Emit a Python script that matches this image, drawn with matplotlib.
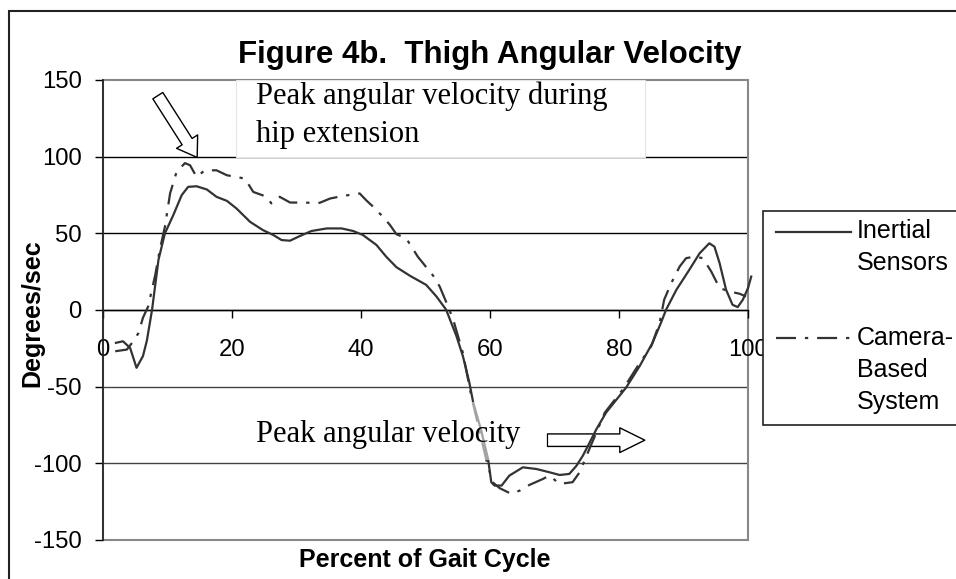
import matplotlib
matplotlib.use("Agg")
import matplotlib.pyplot as plt
from matplotlib.patches import Rectangle
from matplotlib.lines import Line2D

plt.rcParams['axes.unicode_minus'] = False
plt.rcParams['font.family'] = ['Liberation Sans', 'DejaVu Sans']

# ---- data ----
inertial_x = [2.0, 3.1, 4.2, 5.2, 6.2, 6.8, 7.6, 8.6, 9.6, 10.9, 12.2, 13.2, 14.5, 16.1, 17.6,
              19.2, 20.7, 22.8, 24.8, 26.4, 27.7, 29.0, 30.5, 32.3, 34.7, 37.0, 38.8, 40.3,
              42.4, 43.9, 45.5, 47.6, 50.1, 51.7, 53.2, 54.8, 55.8, 56.8, 57.4, 58.6, 59.7,
              60.2, 60.7, 61.8, 63.0, 65.1, 67.2, 69.2, 70.8, 72.3, 73.4, 74.4, 75.5, 76.5,
              78.0, 81.1, 83.2, 85.2, 86.5, 87.3, 88.9, 90.9, 92.5, 94.0, 94.8, 95.6, 96.6,
              97.6, 98.4, 99.2, 100.0, 100.5]
inertial_y = [-21.4, -20.4, -24.7, -37.7, -30, -20, 0, 32.7, 50, 61.9, 74.9, 80.3, 80.7, 78.6,
              73.8, 71.2, 66.2, 57.5, 52.1, 48.9, 45.6, 45.2, 48.2, 51.5, 53.2, 53.2, 51.5,
              48.9, 42.4, 34.8, 27.9, 22.3, 16.4, 8.8, 0.2, -17.1, -30.1, -47.4, -60.4, -78,
              -97.2, -112.3, -114.5, -114.5, -108, -102.6, -103.7, -105.8, -107.6, -106.9,
              -101.6, -95, -86, -77.7, -66.9, -50.6, -36.6, -21.4, -8.4, 0.2, 13.2, 26.2, 37,
              43.5, 41.3, 30.5, 13.2, 3.4, 1.9, 6.7, 14.3, 21.8]

camera_x = [1.9, 3.7, 4.7, 5.5, 6.2, 7.0, 8.1, 8.8, 9.6, 10.4, 11.4, 12.7, 13.5, 14.5, 15.8,
            17.6, 19.2, 22.0, 23.3, 25.4, 26.1, 27.4, 29.0, 33.6, 35.2, 37.2, 39.8, 40.8,
            41.9, 43.4, 44.5, 45.5, 47.0, 48.8, 51.2, 52.2, 53.5, 54.3, 55.8, 57.1, 59.4,
            60.4, 61.5, 63.3, 64.6, 66.1, 68.2, 69.2, 70.8, 72.8, 73.9, 75.4, 77.8, 80.6,
            82.9, 85.0, 86.3, 87.0, 88.1, 89.4, 90.4, 91.7, 93.0, 94.3, 95.6, 97.1, 98.7, 99.7]
camera_y = [-26.9, -25.8, -20.4, -15, -5, 2.3, 22.9, 39.2, 54.3, 76, 90, 95.8, 94.4, 86.8,
            91.1, 91.1, 87.9, 85.7, 77, 73.8, 69.5, 73.8, 70.1, 69.9, 72.7, 74.4, 76, 71.6,
            67.3, 60.8, 55.4, 49.4, 46.8, 34.8, 22.3, 15.3, 2.3, -6.3, -28, -56.1, -97.2,
            -112.3, -116.2, -119.9, -117.8, -114.1, -110.2, -108, -113.4, -112.3, -105.8,
            -90.7, -66.9, -51.8, -36.6, -23.6, -8.4, 6.7, 17.5, 28.3, 33.8, 34.8, 33.8, 25.1,
            14.3, 12.1, 10.6, 8.8]

x_ticks = [0, 20, 40, 60, 80, 100]
y_ticks = [-150, -100, -50, 0, 50, 100, 150]
series_labels = ["Inertial\nSensors", "Camera-\nBased\nSystem"]
title = "Figure 4b.  Thigh Angular Velocity"
x_label = "Percent of Gait Cycle"
y_label = "Degrees/sec"
note_top = ["Peak angular velocity during", "hip extension"]
note_bottom = "Peak angular velocity"

# ---- figure ----
W, H = 956, 579
fig = plt.figure(figsize=(W / 100, H / 100), dpi=100)

def fx(px):
    return px / W

def fy(py):
    return 1 - py / H

L, R, T, B = 103, 748, 80, 540
ax = fig.add_axes([fx(L), fy(B), fx(R) - fx(L), fy(T) - fy(B)])
ax.set_xlim(0, 100)
ax.set_ylim(-150, 150)

# gridlines
for yv in y_ticks:
    if yv == 150:
        continue
    ax.axhline(yv, color='black' if yv in (0, 50, 100) else '#444444', lw=1.0, zorder=1)

# plot area border (gray)
ax.add_patch(Rectangle((0, 0), 1, 1, transform=ax.transAxes, fill=False,
                       ec='#888888', lw=1.5, zorder=1.5, clip_on=False))

for s in ['top', 'right']:
    ax.spines[s].set_visible(False)
ax.spines['left'].set_color('#222222')
ax.spines['left'].set_linewidth(1.2)
ax.spines['left'].set_zorder(3)
ax.spines['bottom'].set_position(('data', 0))
ax.spines['bottom'].set_color('black')
ax.spines['bottom'].set_linewidth(1.0)

ax.set_xticks(x_ticks)
ax.set_yticks(y_ticks)
ax.set_yticklabels([str(v) for v in y_ticks])
ax.set_xticklabels([str(v) for v in x_ticks])
ax.tick_params(axis='y', direction='out', length=5.8, width=1, pad=9.5,
               labelsize=17.2, colors='black')
ax.tick_params(axis='x', direction='out', length=5.8, width=1, pad=15,
               labelsize=17.2, colors='black')

# white box behind the upper note
ax.add_patch(Rectangle((20.6, 99.6), 84.0 - 20.6, 150 - 99.6, fc='white',
                       ec='#e6e6e6', lw=0.8, zorder=2))

# series
ax.plot(inertial_x, inertial_y, color='#333333', lw=1.6, zorder=4, clip_on=False,
        solid_joinstyle='round')
ax.plot(camera_x, camera_y, color='#333333', lw=1.6, zorder=4, clip_on=False,
        dashes=(9, 4, 1.5, 4))

# semi-transparent box of the lower note (fades the curves under it)
ax.add_patch(Rectangle((20.6, -98.0), 68.9 - 20.6, 38.0, fc='white', ec='none',
                       alpha=0.55, zorder=4.5))

# notes
ax.text(23.7, 134.6, note_top[0], family='Liberation Serif', fontsize=22,
        va='baseline', ha='left', zorder=5)
ax.text(23.7, 109.3, note_top[1], family='Liberation Serif', fontsize=22,
        va='baseline', ha='left', zorder=5)
ax.text(23.7, -86.2, note_bottom, family='Liberation Serif', fontsize=22,
        va='baseline', ha='left', zorder=5)

# arrows
ax.annotate('', xy=(14.6, 99.5), xytext=(8.5, 139.8),
            arrowprops=dict(arrowstyle='simple,head_length=1.35,head_width=1.8,tail_width=0.85',
                            fc='white', ec='black', lw=1.0, mutation_scale=10,
                            shrinkA=0, shrinkB=0), zorder=6)
ax.annotate('', xy=(84.0, -84.9), xytext=(68.9, -84.9),
            arrowprops=dict(arrowstyle='simple,head_length=1.8,head_width=1.78,tail_width=0.9',
                            fc='white', ec='black', lw=1.0, mutation_scale=10,
                            shrinkA=0, shrinkB=0), zorder=3)

# titles / labels
fig.text(fx(490), fy(63), title, ha='center', va='baseline', fontsize=22.5,
         fontweight='bold')
fig.text(fx(424.5), fy(567), x_label, ha='center', va='baseline', fontsize=18,
         fontweight='bold')
fig.text(fx(32), fy(313), y_label, ha='center', va='center', rotation=90,
         fontsize=18, fontweight='bold')

# outer chart frame
fig.add_artist(Rectangle((fx(9), fy(H + 40)), fx(W + 40) - fx(9), fy(11) - fy(H + 40),
                         transform=fig.transFigure, fill=False, ec='#222222', lw=1.5))

# legend (manual, Excel-like: handle aligned with first text line)
fig.add_artist(Rectangle((fx(763), fy(425)), fx(W + 40) - fx(763), fy(211) - fy(425),
                         transform=fig.transFigure, fc='white', ec='#222222', lw=1.2,
                         zorder=10))
fig.add_artist(Line2D([fx(776), fx(851)], [fy(232), fy(232)], transform=fig.transFigure,
                      color='#333333', lw=1.6, zorder=11))
fig.add_artist(Line2D([fx(776), fx(851)], [fy(338), fy(338)], transform=fig.transFigure,
                      color='#333333', lw=1.6, zorder=11, dashes=(9, 4, 1.5, 4)))
for i, line in enumerate(series_labels[0].split('\n')):
    fig.text(fx(857), fy(238 + 32 * i), line, ha='left', va='baseline', fontsize=18,
             zorder=12)
for i, line in enumerate(series_labels[1].split('\n')):
    fig.text(fx(857), fy(345 + 32 * i), line, ha='left', va='baseline', fontsize=18,
             zorder=12)

fig.savefig('out.png', dpi=100)
